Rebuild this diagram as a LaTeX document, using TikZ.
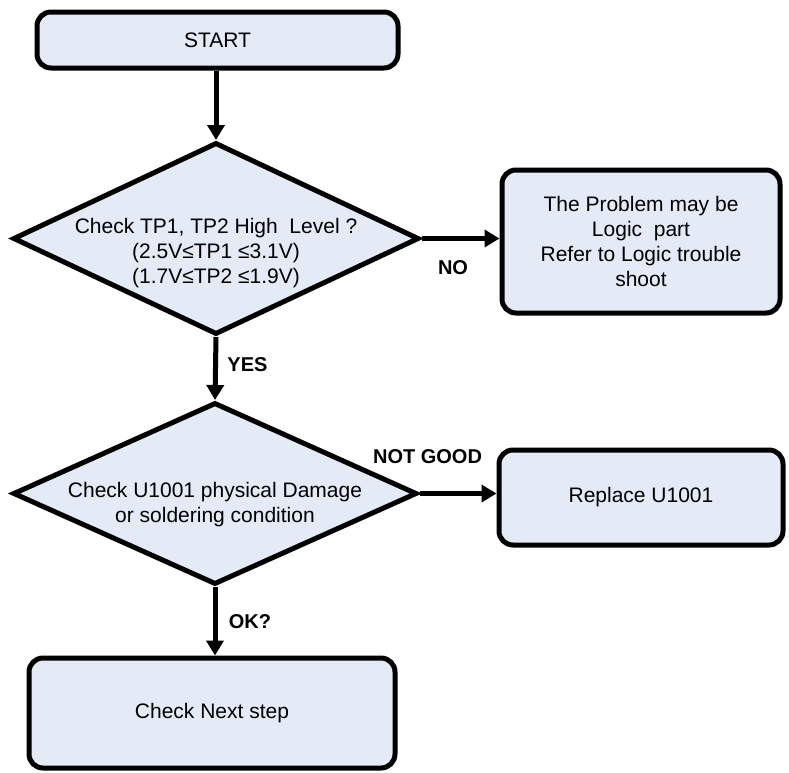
\documentclass[tikz,border=0pt]{standalone}
\usepackage{fontspec}
\setmainfont{Liberation Sans}
\usetikzlibrary{shapes.geometric,arrows.meta}
\definecolor{boxfill}{RGB}{228,235,247}
\begin{document}
\begin{tikzpicture}[x=1pt,y=-1pt,
  every node/.style={font=\fontsize{21}{25}\selectfont},
  box/.style={draw=black, line width=5pt, fill=boxfill, rounded corners=14pt, align=center, inner sep=0pt},
  dec/.style={draw=black, line width=5pt, fill=boxfill, diamond, inner sep=0pt},
  txt/.style={align=center, inner sep=0pt},
  lab/.style={font=\fontsize{20}{24}\selectfont\bfseries, inner sep=0pt},
  flow/.style={line width=5pt, -{Triangle[length=15pt,width=17pt]}}
]
\useasboundingbox (0,0) rectangle (789,772);

\node[box, minimum width=361pt, minimum height=56pt] (start) at (217.5,40) {START};
\node[dec, minimum width=406pt, minimum height=192pt] (d1) at (216,238.5) {};
\node[txt] (d1t) at (216,253) {Check TP1, TP2 High\ \ Level ?\\(2.5V≤TP1 ≤3.1V)\\(1.7V≤TP2 ≤1.9V)};
\node[box, minimum width=278pt, minimum height=143pt] (prob) at (641,241.5) {The Problem may be\\ Logic\ \ part\\Refer to Logic trouble\\shoot};
\node[dec, minimum width=404pt, minimum height=182pt] (d2) at (215,493.5) {};
\node[txt] (d2t) at (215,505) {Check U1001 physical Damage\\or soldering condition};
\node[box, minimum width=284pt, minimum height=95pt] (rep) at (641,497.5) {Replace U1001};
\node[box, minimum width=366pt, minimum height=110pt] (next) at (212,713) {Check Next step};

\node[lab] (no) at (453,268) {NO};
\node[lab] (yes) at (247.5,365) {YES};
\node[lab] (ng) at (427.5,457) {NOT GOOD};
\node[lab] (ok) at (250,622) {OK?};

\draw[flow] (start.south -| d1.north) -- (d1.north);
\draw[flow] (d1.east) -- (prob.west |- d1.east);
\draw[flow] (d1.south) -- (d2.north);
\draw[flow] (d2.east) -- (rep.west |- d2.east);
\draw[flow] (d2.south) -- (d2.south |- next.north);
\end{tikzpicture}
\end{document}
